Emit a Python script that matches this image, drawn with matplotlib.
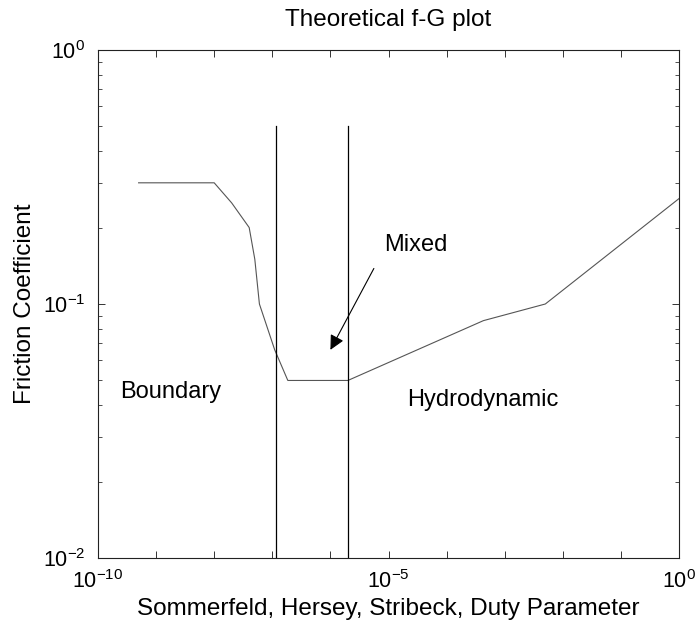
"""Theoretical friction coefficient vs. duty parameter (Stribeck curve)."""

import matplotlib

matplotlib.use("Agg")
from matplotlib import pyplot as plt
from matplotlib.ticker import LogLocator, NullFormatter, FixedLocator

plt.rcParams["font.family"] = ["Liberation Sans", "DejaVu Sans"]
plt.rcParams["mathtext.fontset"] = "custom"
plt.rcParams["mathtext.rm"] = "Liberation Sans"
plt.rcParams["mathtext.it"] = "Liberation Sans:italic"

# Stribeck curve: duty parameter vs friction coefficient
duty = [5e-10, 1e-8, 2e-8, 4e-8, 5e-8, 6e-8, 1.1e-7, 1.85e-7, 2e-6, 4.3e-4, 5e-3, 1.0]
friction = [0.3, 0.3, 0.25, 0.2, 0.15, 0.1, 0.066, 0.05, 0.05, 0.086, 0.1, 0.26]

# regime boundaries
boundary_x = [1.15e-7, 2e-6]
boundary_y = [0.01, 0.5]

regime_labels = ["Boundary", "Hydrodynamic", "Mixed"]
regime_pos = [(2.4e-10, 0.045), (2.1e-5, 0.042), (8.3e-6, 0.17)]
arrow_tail = (5.6e-6, 0.138)
arrow_tip = (1e-6, 0.066)

x_decades = list(range(-10, 1))


def main() -> None:
    fig = plt.figure(figsize=(6.97, 6.28), dpi=100)
    ax = fig.add_axes([98 / 697, 1 - 558 / 628, 581 / 697, 508 / 628])

    ax.plot(duty, friction, color="#555555", linewidth=0.8)
    for x in boundary_x:
        ax.plot([x, x], boundary_y, color="black", linewidth=0.9)

    ax.set_xscale("log")
    ax.set_yscale("log")
    ax.set_xlim(1e-10, 1e0)
    ax.set_ylim(1e-2, 1e0)

    ax.xaxis.set_major_locator(FixedLocator([10.0 ** k for k in x_decades]))
    ax.xaxis.set_minor_locator(FixedLocator([]))
    ax.set_xticklabels([r"$\mathregular{10^{%d}}$" % k if k % 5 == 0 else "" for k in x_decades])
    ax.yaxis.set_major_locator(FixedLocator([1e-2, 1e-1, 1e0]))
    ax.set_yticklabels([r"$\mathregular{10^{%d}}$" % k for k in (-2, -1, 0)])
    ax.yaxis.set_minor_locator(LogLocator(base=10, subs=range(2, 10), numticks=20))
    ax.yaxis.set_minor_formatter(NullFormatter())

    ax.tick_params(which="both", direction="in", top=True, right=True,
                   labelsize=15.5, color="#333333")
    ax.tick_params(which="major", length=5, width=0.7, pad=9)
    ax.tick_params(which="minor", length=3, width=0.6)
    for spine in ax.spines.values():
        spine.set_linewidth(0.8)
        spine.set_color("#222222")

    ax.set_title("Theoretical f-G plot", fontsize=17.5, pad=17)
    ax.set_xlabel("Sommerfeld, Hersey, Stribeck, Duty Parameter", fontsize=17.5, labelpad=3)
    ax.set_ylabel("Friction Coefficient", fontsize=17.5)
    ax.yaxis.set_label_coords(-0.107, 0.5)

    for label, (x, y) in zip(regime_labels, regime_pos):
        ax.text(x, y, label, fontsize=17, va="center", ha="left")
    ax.annotate("", xy=arrow_tip, xytext=arrow_tail,
                arrowprops=dict(arrowstyle="-|>", color="black", lw=0.8,
                                mutation_scale=22, shrinkA=0, shrinkB=0))

    fig.savefig("out.png", dpi=100)
    plt.close(fig)


if __name__ == "__main__":
    main()
